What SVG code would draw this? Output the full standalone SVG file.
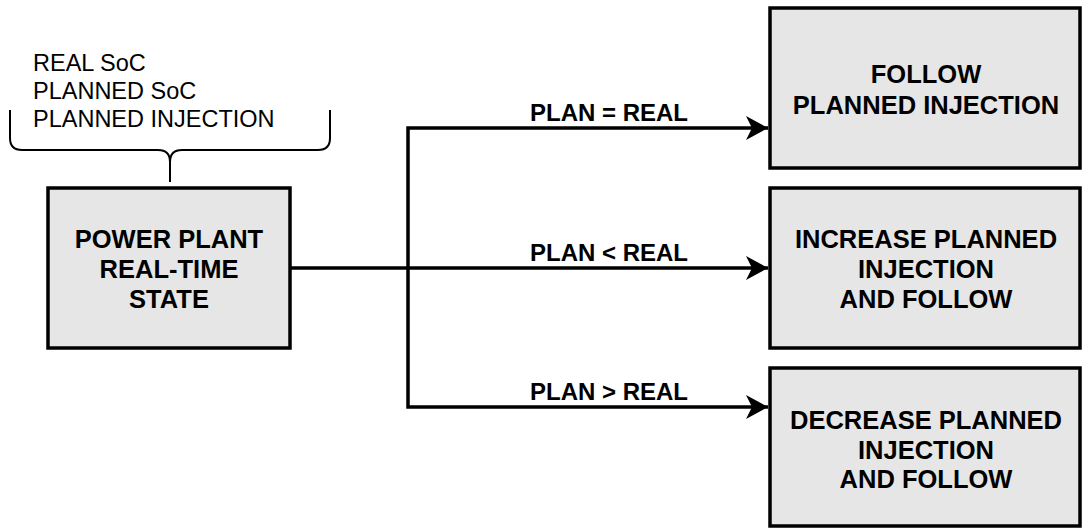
<svg xmlns="http://www.w3.org/2000/svg" width="1083" height="529" viewBox="0 0 1083 529">
<style>
.box{fill:#e6e6e6;stroke:#000;stroke-width:3.5}
.bt{font-family:"Liberation Sans",Arial,sans-serif;font-weight:bold;font-size:25.5px;text-anchor:middle;fill:#000}
.lt{font-family:"Liberation Sans",Arial,sans-serif;font-weight:bold;font-size:24px;text-anchor:middle;fill:#000}
.it{font-family:"Liberation Sans",Arial,sans-serif;font-size:23.5px;fill:#000}
.wire{fill:none;stroke:#000;stroke-width:3.5}
.brace{fill:none;stroke:#000;stroke-width:2}
</style>
<defs>
<marker id="arr" markerUnits="userSpaceOnUse" markerWidth="24" markerHeight="26" refX="22" refY="13" orient="auto">
<path d="M0,1 L22,13 L0,25 L6,13 Z" fill="#000"/>
</marker>
</defs>
<rect width="1083" height="529" fill="#fff"/>
<g id="inputs">
<text class="it" x="33" y="71">REAL SoC</text>
<text class="it" x="33" y="99">PLANNED SoC</text>
<text class="it" x="33" y="127">PLANNED INJECTION</text>
<path class="brace" d="M10,110 V138 Q10,150 22,150 H158 Q170,150 170,162 Q170,150 182,150 H318 Q330,150 330,138 V110 M170,162 V182"/>
</g>
<g id="connectors">
<path class="wire" d="M290,268 H408"/>
<path class="wire" d="M408,268 H768" marker-end="url(#arr)"/>
<path class="wire" d="M408,268 V128 H768" marker-end="url(#arr)"/>
<path class="wire" d="M408,268 V407 H768" marker-end="url(#arr)"/>
<text class="lt" x="609" y="121">PLAN = REAL</text>
<text class="lt" x="609" y="261">PLAN &lt; REAL</text>
<text class="lt" x="609" y="400">PLAN &gt; REAL</text>
</g>
<g id="state">
<rect class="box" x="48" y="188" width="242" height="160"/>
<text class="bt" x="169" y="248">POWER PLANT</text>
<text class="bt" x="169" y="278">REAL-TIME</text>
<text class="bt" x="169" y="308">STATE</text>
</g>
<g id="follow">
<rect class="box" x="770" y="8" width="310" height="160"/>
<text class="bt" x="926" y="83">FOLLOW</text>
<text class="bt" x="926" y="114">PLANNED INJECTION</text>
</g>
<g id="increase">
<rect class="box" x="770" y="188" width="310" height="160"/>
<text class="bt" x="926" y="248">INCREASE PLANNED</text>
<text class="bt" x="926" y="278">INJECTION</text>
<text class="bt" x="926" y="308">AND FOLLOW</text>
</g>
<g id="decrease">
<rect class="box" x="770" y="368" width="310" height="158"/>
<text class="bt" x="926" y="429">DECREASE PLANNED</text>
<text class="bt" x="926" y="459">INJECTION</text>
<text class="bt" x="926" y="488">AND FOLLOW</text>
</g>
</svg>
